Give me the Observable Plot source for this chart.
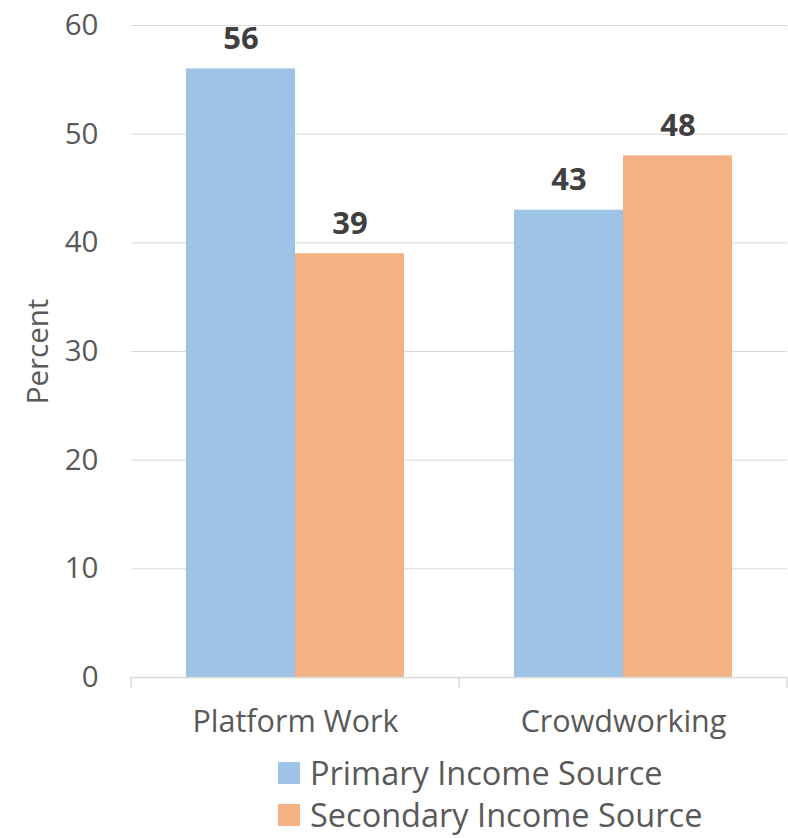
<!DOCTYPE html>
<html>
<head>
<meta charset="utf-8">
<script src="https://cdn.jsdelivr.net/npm/d3@7"></script>
<script src="https://cdn.jsdelivr.net/npm/@observablehq/plot@0.6"></script>
<style>
  html, body { margin: 0; padding: 0; background: #fff; }
  #chart { width: 788px; height: 745px; }
  .legend { font-family: "Open Sans", sans-serif; font-size: 32.5px; color: #595959; padding-left: 278px; margin-top: 8px; }
  .legend .row { display: flex; align-items: center; height: 40px; }
  .legend .row + .row { margin-top: 2px; }
  .legend .row span { line-height: 1; }
  .legend .sw { width: 22px; height: 22px; margin-right: 10px; }
</style>
</head>
<body>
<div id="chart"></div>
<script>
const categories = ["Platform Work", "Crowdworking"];
const seriesNames = ["Primary Income Source", "Secondary Income Source"];
const primaryValues = [56, 43];
const secondaryValues = [39, 48];
const yTicks = [0, 10, 20, 30, 40, 50, 60];
const seriesColors = ["#9DC3E6", "#F4B183"];
const textColor = "#595959";

const data = categories.flatMap((c, i) => [
  {category: c, series: seriesNames[0], value: primaryValues[i]},
  {category: c, series: seriesNames[1], value: secondaryValues[i]}
]);

const plot = Plot.plot({
  width: 788,
  height: 745,
  marginLeft: 130,
  marginRight: 1,
  marginTop: 25,
  marginBottom: 68,
  style: {fontFamily: "'Open Sans', sans-serif", color: textColor, background: "#fff"},
  fx: {domain: categories, padding: 0, label: null},
  x: {domain: seriesNames, paddingInner: 0, paddingOuter: 0.493, axis: null},
  y: {domain: [0, 60]},
  color: {domain: seriesNames, range: seriesColors},
  marks: [
    Plot.gridY(yTicks, {stroke: "#d9d9d9", strokeOpacity: 1}),
    Plot.axisY(yTicks, {tickSize: 0, tickPadding: 33, fontSize: 29.5, label: "Percent", labelAnchor: "center", labelOffset: 104, labelArrow: "none"}),
    Plot.axisFx({anchor: "bottom", tickSize: 0, tickPadding: 33, fontSize: 30.5, label: null}),
    Plot.barY(data, {fx: "category", x: "series", y: "value", fill: "series"}),
    Plot.ruleY([0], {stroke: "#d9d9d9", strokeWidth: 1.5}),
    Plot.text(data, {fx: "category", x: "series", y: "value", text: d => String(d.value), dy: -20, lineAnchor: "bottom", fontSize: 31, fontWeight: "bold", fill: "#404040"})
  ]
});

document.getElementById("chart").appendChild(plot);

// boundary tick marks under the category axis, derived from the fx scale
const fx = plot.scale("fx");
const yScale = plot.scale("y");
const y0 = yScale.apply(0);
const bounds = [];
categories.forEach((c, i) => {
  const x0 = fx.apply(c);
  if (i === 0) bounds.push(x0);
  bounds.push(x0 + fx.bandwidth);
});
const svg = d3.select(plot);
svg.append("g").selectAll("line").data(bounds).join("line")
  .attr("x1", d => Math.min(d, 787)).attr("x2", d => Math.min(d, 787))
  .attr("y1", y0).attr("y2", y0 + 11)
  .attr("stroke", "#d9d9d9").attr("stroke-width", 1.5);

// legend
const legend = d3.select("body").append("div").attr("class", "legend");
seriesNames.forEach((s, i) => {
  const row = legend.append("div").attr("class", "row");
  row.append("div").attr("class", "sw").style("background", seriesColors[i]);
  row.append("span").text(s);
});
</script>
</body>
</html>
